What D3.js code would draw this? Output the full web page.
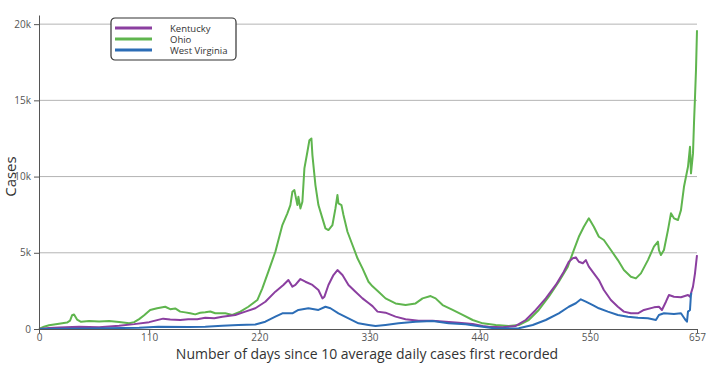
<style>
	body{ margin: 0; background: #fff; }
	.grid line{ stroke: #b4b4b4; stroke-width: 1px; }
	.axis path, .axis line{ stroke: #555; }
	.axis text{ fill: #555; font-family: "Open Sans", sans-serif; font-size: 10px; }
	.line{ fill: none; stroke-width: 2px; stroke-linejoin: round; }
</style>

<body>
<script src="https://cdn.jsdelivr.net/npm/d3@7"></script>
<script>

	// values
	var ohioDays = [0,5,10,20,28,31,33,35,38,42,50,60,70,80,90,95,100,105,111,118,126,131,136,141,146,151,156,161,166,171,176,181,186,193,201,209,218,223,229,236,243,248,251,253,255,258,259,261,263,265,268,270,272,273,275,276,279,283,286,289,293,296,298,299,302,304,308,313,318,323,329,333,339,346,356,366,376,383,391,396,403,413,423,433,443,456,469,479,489,499,509,519,528,534,539,544,549,554,559,564,571,578,584,591,596,601,608,614,618,619,621,624,628,631,634,638,641,644,648,650,651,653,654,655,656,657];
	var ohioCases = [0,150,250,350,420,550,900,950,620,470,520,500,520,460,380,450,650,900,1250,1360,1460,1300,1350,1140,1090,1030,960,1070,1100,1150,1030,1030,1030,920,1140,1460,1900,2670,3760,5070,6820,7590,8130,9000,9110,8130,8670,7910,8350,10540,11630,12390,12500,11410,10100,9440,8130,7260,6600,6490,6820,7910,8790,8240,8130,7480,6380,5510,4640,3980,3100,2800,2450,2010,1680,1570,1680,2010,2160,2010,1570,1250,920,590,370,260,200,260,590,1250,2120,3100,4090,5180,6050,6710,7260,6710,6050,5840,5180,4520,3870,3430,3320,3650,4520,5400,5730,5180,4850,5180,6490,7590,7260,7150,7800,9330,10640,11950,10210,11520,13500,15200,17000,19600];

	var kyDays = [0,10,20,40,60,80,95,110,119,124,131,141,149,158,166,175,183,196,206,216,226,236,244,249,253,256,261,266,273,279,283,285,289,294,298,303,309,316,323,329,333,338,346,356,366,379,393,406,419,433,443,449,463,476,486,496,506,516,524,529,533,536,539,543,546,549,554,559,564,571,578,584,591,598,604,614,619,622,626,629,634,641,648,650,653,655,657];
	var kyCases = [0,60,100,150,120,220,320,450,600,680,620,590,640,640,740,700,810,920,1140,1360,1790,2450,2890,3210,2780,2890,3280,3100,2890,2560,2010,2120,2890,3540,3870,3540,2890,2450,2010,1700,1500,1140,1070,810,640,540,540,480,410,330,200,150,110,200,590,1250,2010,2890,3760,4410,4640,4700,4410,4310,4520,4090,3650,3210,2560,1900,1460,1140,1030,1030,1250,1420,1460,1250,1790,2230,2120,2080,2230,2120,2780,3650,4850];

	var wvDays = [0,50,100,119,150,166,183,199,216,226,236,243,253,259,269,279,286,291,299,309,319,329,336,346,359,376,393,409,426,443,456,479,493,506,519,529,536,541,546,553,559,568,578,588,598,608,616,619,624,634,641,645,647,648,650,651,652];
	var wvCases = [0,30,80,150,130,150,220,260,300,480,810,1030,1030,1250,1360,1250,1460,1360,1030,700,370,260,190,260,370,480,520,370,310,150,30,50,260,590,1030,1460,1690,1950,1790,1570,1360,1140,920,810,740,700,590,920,1030,980,1030,640,480,1140,1250,2300,2350];

	var states = ["Kentucky", "Ohio", "West Virginia"];
	var colors = ["#8b3fa0", "#5fb54e", "#2c6db6"];
	var xTicks = [0, 110, 220, 330, 440, 550, 657];
	var yTicks = [0, 5000, 10000, 15000, 20000];

	var width = 714, height = 366;
	var margin = {top: 15, right: 17, bottom: 37, left: 39};

	var x = d3.scaleLinear()
			.domain([0, 657])
			.range([margin.left, width - margin.right]);

	var y = d3.scaleLinear()
			.domain([0, 20600])
			.range([height - margin.bottom, margin.top]);

	var svg = d3.select("body").append("svg")
				.attr("width", width)
				.attr("height", height);

	// gridlines
	svg.append("g")
		.attr("class", "grid")
		.selectAll("line")
		.data(yTicks.slice(1))
		.enter().append("line")
		.attr("x1", x(0))
		.attr("x2", x(657))
		.attr("y1", function(d){ return y(d); })
		.attr("y2", function(d){ return y(d); });

	var series = [
		{name: states[0], days: kyDays, cases: kyCases, color: colors[0]},
		{name: states[1], days: ohioDays, cases: ohioCases, color: colors[1]},
		{name: states[2], days: wvDays, cases: wvCases, color: colors[2]}
	];

	var line = d3.line()
				.x(function(d) { return x(d[0]); })
				.y(function(d) { return y(d[1]); });

	// draw order: wv on top like the picture
	[1, 0, 2].forEach(function(i){
		var s = series[i];
		svg.append("path")
			.datum(d3.zip(s.days, s.cases))
			.attr("class", "line")
			.attr("stroke", s.color)
			.attr("d", line);
	});

	var fmt = function(d){ return d == 0 ? "0" : (d / 1000) + "k"; };

	svg.append("g")
		.attr("class", "axis")
		.attr("transform", "translate(" + margin.left + ",0)")
		.call(d3.axisLeft(y).tickValues(yTicks).tickFormat(fmt).tickSize(5).tickSizeOuter(0));

	svg.append("g")
		.attr("class", "axis")
		.attr("transform", "translate(0," + (height - margin.bottom) + ")")
		.call(d3.axisBottom(x).tickValues(xTicks).tickFormat(d3.format("d")).tickSize(4).tickSizeOuter(0))
		.selectAll("text").attr("dy", "0.5em");

	svg.append("text")
		.attr("transform", "translate(16," + y(10000) + ") rotate(-90)")
		.attr("text-anchor", "middle")
		.attr("fill", "#333")
		.attr("font-family", "Open Sans, sans-serif")
		.attr("font-size", "15px")
		.text("Cases");

	svg.append("text")
		.attr("x", 367)
		.attr("y", 359)
		.attr("text-anchor", "middle")
		.attr("fill", "#333")
		.attr("font-family", "Open Sans, sans-serif")
		.attr("font-size", "14px")
		.text("Number of days since 10 average daily cases first recorded");

	// legend
	var legend = svg.append("g").attr("transform", "translate(111,18)");

	legend.append("rect")
		.attr("width", 125)
		.attr("height", 42)
		.attr("rx", 4)
		.attr("fill", "#fff")
		.attr("stroke", "#333")
		.attr("stroke-width", 1.2);

	var item = legend.selectAll(".item")
		.data(series)
		.enter().append("g")
		.attr("class", "item")
		.attr("transform", function(d, i){ return "translate(0," + (10 + i * 11) + ")"; });

	item.append("line")
		.attr("x1", 4)
		.attr("x2", 41)
		.attr("stroke", function(d){ return d.color; })
		.attr("stroke-width", 3);

	item.append("text")
		.attr("x", 59)
		.attr("dominant-baseline", "central")
		.attr("fill", "#333")
		.attr("font-family", "Open Sans, sans-serif")
		.attr("font-size", "9.5px")
		.text(function(d){ return d.name; });

</script>
</body>
